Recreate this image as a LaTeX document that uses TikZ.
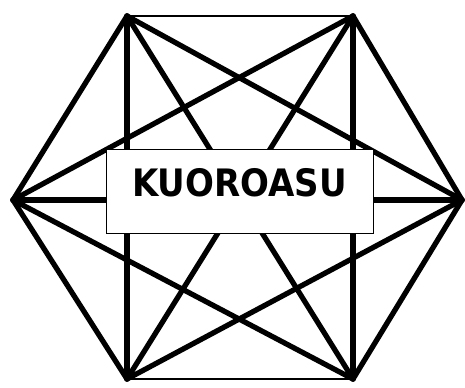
\documentclass[tikz,border=0pt]{standalone}
\usepackage{fontspec}
\newfontfamily\labelfont{DejaVu Sans Condensed}
\usetikzlibrary{positioning}

\begin{document}
\begin{tikzpicture}[
        edge/.style={line width=3pt, line cap=round, line join=round},
        rim/.style={line width=1.6pt, line cap=round},
        titlebox/.style={rectangle, draw, line width=0.5pt, fill=white,
            minimum width=5.34cm, minimum height=1.68cm, inner sep=0pt,
            text height=0.96cm, text depth=0.72cm,
            font=\labelfont\bfseries\fontsize{21.5}{21.5}\selectfont},
    ]
        \useasboundingbox (0, 0) rectangle (9.3, 7.74);

        % Corners
        \coordinate (tl) at (2.54, 7.42);
        \coordinate (tr) at (7.06, 7.42);
        \coordinate (l) at (0.26, 3.74);
        \coordinate (r) at (9.24, 3.74);
        \coordinate (bl) at (2.54, 0.16);
        \coordinate (br) at (7.06, 0.16);

        % Outer edges
        \draw[rim] (tl) -- (tr);
        \draw[rim] (bl) -- (br);
        \draw[edge] (tl) -- (l);
        \draw[edge] (l) -- (bl);
        \draw[edge] (tr) -- (r);
        \draw[edge] (r) -- (br);

        % Inner edges
        \draw[edge] (tl) -- (bl);
        \draw[edge] (tr) -- (br);
        \draw[edge] (tl) -- (br);
        \draw[edge] (tr) -- (bl);
        \draw[edge] (tl) -- (r);
        \draw[edge] (tr) -- (l);
        \draw[edge] (bl) -- (r);
        \draw[edge] (br) -- (l);
        \draw[edge] (l) -- (r);

        % Title
        \node[titlebox] (title) at (4.79, 3.92) {KUOROASU};
    \end{tikzpicture}
\end{document}
